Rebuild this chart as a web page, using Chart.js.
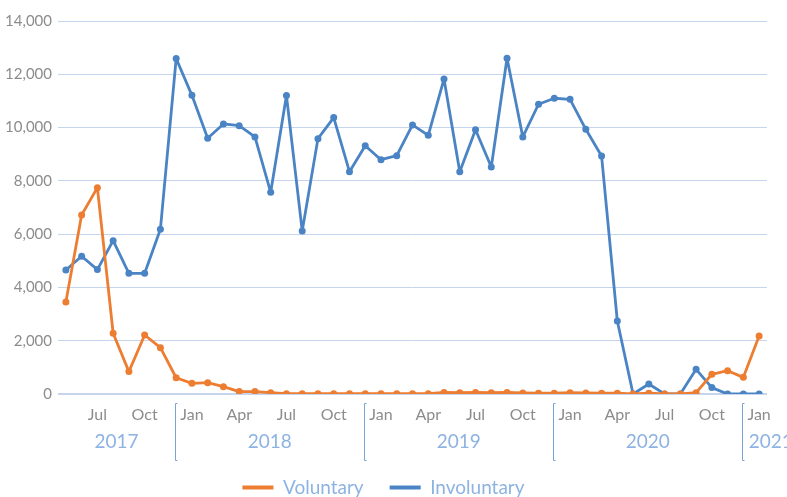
<!DOCTYPE html>
<html>
<head>
<meta charset="utf-8">
<script src="https://cdn.jsdelivr.net/npm/chart.js@4/dist/chart.umd.min.js"></script>
<style>
  html, body { margin: 0; padding: 0; background: #fff; }
  #wrap { width: 787px; height: 497px; }
</style>
</head>
<body>
<div id="wrap"><canvas id="chart" width="787" height="497"></canvas></div>
<script>
// Month categories, May 2017 .. Jan 2021
const months = [
  'May', 'Jun', 'Jul', 'Aug', 'Sep', 'Oct', 'Nov', 'Dec',
  'Jan', 'Feb', 'Mar', 'Apr', 'May', 'Jun', 'Jul', 'Aug', 'Sep', 'Oct', 'Nov', 'Dec',
  'Jan', 'Feb', 'Mar', 'Apr', 'May', 'Jun', 'Jul', 'Aug', 'Sep', 'Oct', 'Nov', 'Dec',
  'Jan', 'Feb', 'Mar', 'Apr', 'May', 'Jun', 'Jul', 'Aug', 'Sep', 'Oct', 'Nov', 'Dec',
  'Jan'
];
const years = ['2017', '2018', '2019', '2020', '2021'];
const shownMonths = ['Jan', 'Apr', 'Jul', 'Oct'];

const voluntary = [
  3450, 6720, 7745, 2280, 840, 2215, 1740, 610,
  400, 425, 275, 90, 90, 50, 10, 10, 10, 10, 10, 10,
  10, 10, 10, 10, 60, 50, 60, 50, 60, 40, 30, 30,
  50, 40, 30, 30, 0, 30, 0, 0, 50, 740, 875, 625,
  2180
];
const involuntary = [
  4655, 5170, 4670, 5755, 4530, 4530, 6180, 12590,
  11210, 9600, 10135, 10070, 9650, 7570, 11200, 6120, 9585, 10375, 8345, 9320,
  8795, 8945, 10100, 9710, 11825, 8345, 9920, 8520, 12600, 9650, 10875, 11100,
  11060, 9935, 8935, 2740, 0, 375, 0, 0, 925, 240, 0, 0,
  0
];
const yTicks = [0, 2000, 4000, 6000, 8000, 10000, 12000, 14000];

const FONT = 'Lato, "Open Sans", sans-serif';
const ORANGE = '#ed7d31';
const BLUE = '#4a84c4';
const PALE = '#8db3e2';

// year groups under the month ticks
const yearAxis = {
  id: 'yearAxis',
  beforeInit(chart) {
    const lg = chart.legend;
    if (lg) {
      const fit = lg.fit;
      lg.fit = function () { fit.call(this); this.height = 45; };
    }
  },
  afterDraw(chart) {
    const x = chart.scales.x;
    const ctx = chart.ctx;
    const seps = [];
    months.forEach((m, i) => { if (m === 'Dec') seps.push(x.getPixelForValue(i) - 1); });
    ctx.save();
    ctx.strokeStyle = '#7aa3d6';
    ctx.lineWidth = 1;
    seps.forEach(s => {
      const px = Math.round(s) + 0.5;
      ctx.beginPath();
      ctx.moveTo(px + 2, 403.5);
      ctx.lineTo(px, 403.5);
      ctx.lineTo(px, 460.5);
      ctx.lineTo(px + 2, 460.5);
      ctx.stroke();
    });
    const bounds = [chart.chartArea.left, ...seps, chart.width + 12];
    ctx.fillStyle = PALE;
    ctx.font = '19px ' + FONT;
    ctx.textAlign = 'center';
    ctx.textBaseline = 'alphabetic';
    years.forEach((y, i) => {
      ctx.fillText(y, (bounds[i] + bounds[i + 1]) / 2, 448);
    });
    ctx.restore();
  }
};

const lineStyle = color => ({
  borderColor: color,
  backgroundColor: color,
  borderWidth: 2.8,
  borderJoinStyle: 'round',
  pointRadius: 3.5,
  pointBackgroundColor: color,
  pointBorderWidth: 0,
  tension: 0
});

new Chart(document.getElementById('chart'), {
  type: 'line',
  data: {
    labels: months,
    datasets: [
      { label: 'Voluntary', data: voluntary, ...lineStyle(ORANGE) },
      { label: 'Involuntary', data: involuntary, ...lineStyle(BLUE) }
    ]
  },
  options: {
    responsive: false,
    animation: false,
    layout: { padding: { top: 21, right: 20, left: 0, bottom: 0 } },
    plugins: {
      tooltip: { enabled: false },
      legend: {
        position: 'bottom',
        labels: {
          boxWidth: 31,
          boxHeight: 4,
          padding: 26,
          color: PALE,
          font: { family: FONT, size: 19 },
          generateLabels: chart =>
            Chart.defaults.plugins.legend.labels.generateLabels(chart).map(l => ({ ...l, lineWidth: 0 }))
        }
      }
    },
    scales: {
      x: {
        offset: true,
        grid: { display: false },
        border: { display: false },
        afterFit: s => { s.height = 58; },
        ticks: {
          autoSkip: false,
          maxRotation: 0,
          padding: 3,
          color: '#8c8c8c',
          font: { family: FONT, size: 16 },
          callback: (v, i) => shownMonths.includes(months[i]) ? months[i] : ''
        }
      },
      y: {
        min: yTicks[0],
        max: yTicks[yTicks.length - 1],
        afterFit: s => { s.width = 58; },
        afterBuildTicks: s => { s.ticks = yTicks.map(v => ({ value: v })); },
        border: { display: false },
        grid: {
          drawTicks: false,
          color: '#c6d5ee',
          lineWidth: c => c.tick && c.tick.value === 0 ? 2 : 1
        },
        ticks: {
          padding: 6,
          color: '#8c8c8c',
          font: { family: FONT, size: 15 },
          callback: v => v.toLocaleString('en-US')
        }
      }
    }
  },
  plugins: [yearAxis]
});
</script>
</body>
</html>
